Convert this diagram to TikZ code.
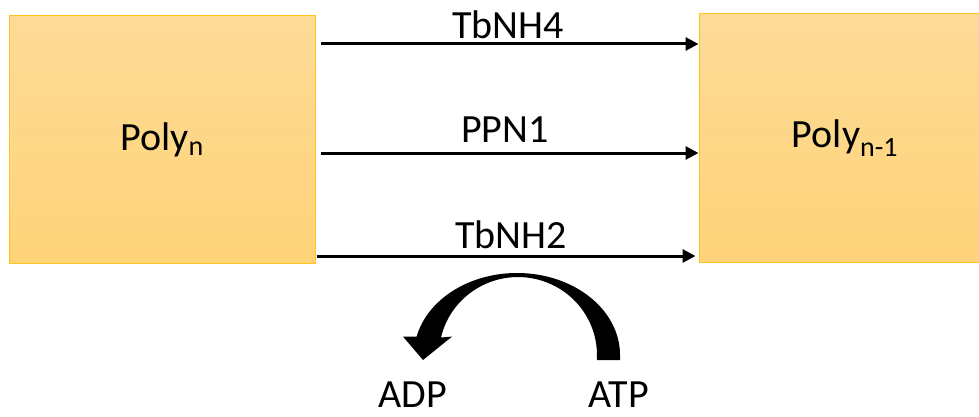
\documentclass[tikz,border=0pt]{standalone}
\usepackage{fontspec}
\setmainfont{Carlito}
\usetikzlibrary{arrows.meta}

\definecolor{boxtop}{RGB}{253,219,151}
\definecolor{boxbottom}{RGB}{254,211,121}
\definecolor{boxedge}{RGB}{255,196,30}

\tikzset{
  polybox/.style={draw=boxedge, line width=1pt, top color=boxtop, bottom color=boxbottom,
    inner sep=0pt, font=\fontsize{40}{48}\selectfont},
  flow/.style={line width=3pt, -{Triangle[length=13pt,width=13pt]}},
  enzyme/.style={anchor=base, inner sep=0pt, font=\fontsize{40}{48}\selectfont},
}

\begin{document}
\begin{tikzpicture}[x=1pt,y=1pt]
  \useasboundingbox (0,0) rectangle (979,416);
  \fill[white] (0,0) rectangle (979,416);
  \clip (0,0) rectangle (979,416);

  % substrate and product boxes
  \node[polybox, minimum width=306pt, minimum height=247pt] (L) at (162,276.5) {Poly\textsubscript{n}};
  \node[polybox, minimum width=292pt, minimum height=248pt] (R) at (845,278) {Poly\textsubscript{n-1}};

  % three enzymes acting in parallel
  \draw[flow] ([xshift=5pt,yshift=95.5pt]L.east) coordinate (a1) -- (a1 -| R.west);
  \draw[flow] ([xshift=5pt,yshift=-13.5pt]L.east) coordinate (a2) -- (a2 -| R.west);
  \draw[flow] ([xshift=1pt,yshift=-116.5pt]L.east) coordinate (a3) -- ([xshift=-3pt]a3 -| R.west);

  \node[enzyme] (e1) at (508,377) {TbNH4};
  \node[enzyme] (e2) at (505,274) {PPN1};
  \node[enzyme] (e3) at (511,168) {TbNH2};

  % ATP -> ADP coupling
  \node[enzyme] (adp) at (413,9) {ADP};
  \node[enzyme] (atp) at (619,9) {ATP};

  \fill (620,56) -- (620,61)
    arc[start angle=0, end angle=167, x radius=103, y radius=82]
    -- (403,79.4) -- (423,56) -- (452,79.4) -- (441,78.5)
    arc[start angle=167, end angle=0, x radius=79, y radius=78]
    -- (597,56) -- cycle;
\end{tikzpicture}
\end{document}
